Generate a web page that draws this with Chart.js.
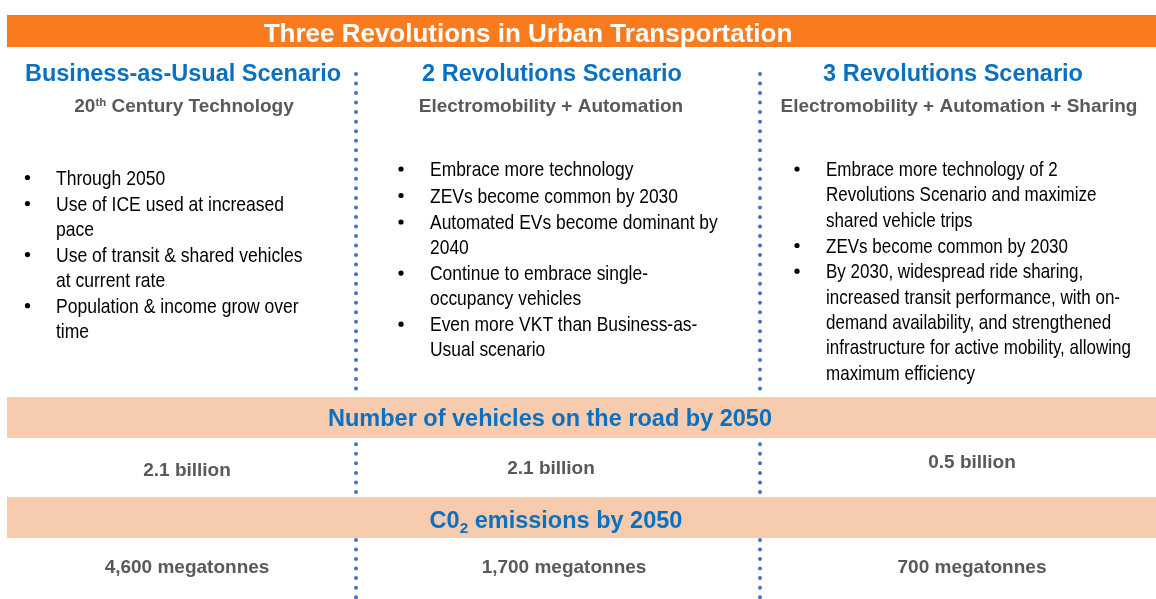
<!DOCTYPE html>
<html>
<head>
<meta charset="utf-8">
<script src="https://cdn.jsdelivr.net/npm/chart.js@4.4.1/dist/chart.umd.min.js"></script>
<style>
    html, body { margin: 0; padding: 0; background: #fff; }
    canvas { display: block; }
</style>
</head>
<body>
<canvas id="board" width="1156" height="599"></canvas>
<script>
// Textos y datos del gráfico
const TITLE = 'Three Revolutions in Urban Transportation';
const SCENARIOS = ['Business-as-Usual Scenario', '2 Revolutions Scenario', '3 Revolutions Scenario'];
const SUBTITLES = ['20th Century Technology', 'Electromobility + Automation', 'Electromobility + Automation + Sharing'];

const BAU_BULLETS = [
    ['Through 2050'],
    ['Use of ICE used at increased', 'pace'],
    ['Use of transit & shared vehicles', 'at current rate'],
    ['Population & income grow over', 'time']
];
const TWO_REV_BULLETS = [
    ['Embrace more technology'],
    ['ZEVs become common by 2030'],
    ['Automated EVs become dominant by', '2040'],
    ['Continue to embrace single-', 'occupancy vehicles'],
    ['Even more VKT than Business-as-', 'Usual scenario']
];
const THREE_REV_BULLETS = [
    ['Embrace more technology of 2', 'Revolutions Scenario and maximize', 'shared vehicle trips'],
    ['ZEVs become common by 2030'],
    ['By 2030, widespread ride sharing,', 'increased transit performance, with on-',
     'demand availability, and strengthened', 'infrastructure for active mobility, allowing',
     'maximum efficiency']
];

const VEHICLES_TITLE = 'Number of vehicles on the road by 2050';
const CO2_TITLE = 'C0_2 emissions by 2050';
const VEHICLES_BILLION = [2.1, 2.1, 0.5];
const CO2_MEGATONNES = [4600, 1700, 700];

// Layout (px del lienzo)
const ORANGE = '#FA7B1E';
const PEACH = '#F7CBAD';
const BLUE = '#0A70C0';
const GRAY = '#595959';
const DOTS = '#4472C4';
const FONT = '"Liberation Sans", Arial, Helvetica, sans-serif';

const COLUMNS = [
    { head: 183, sub: 184, bullet: 27.5, text: 56, squeeze: 0.835, firstLine: 184.5, lineH: 25.1, gap: 0.9, veh: 187, vehY: 476, co2: 187, list: BAU_BULLETS },
    { head: 552, sub: 551, bullet: 401, text: 430, squeeze: 0.83, firstLine: 176, lineH: 24.6, gap: 1.9, veh: 551, vehY: 473.5, co2: 564, list: TWO_REV_BULLETS },
    { head: 953, sub: 959, bullet: 797, text: 826, squeeze: 0.81, firstLine: 176, lineH: 25.4, gap: 0.3, veh: 972, vehY: 468, co2: 972, list: THREE_REV_BULLETS }
];
const SEPARATORS = [356, 760];
const DOT_SEGMENTS = [[74, 396], [444.3, 496], [540, 599]];

// Dibuja texto con sub/superíndices: "20th" -> superíndice, "_2" -> subíndice
function drawRich(ctx, text, cx, baseline, size, weight, color) {
    const parts = [];
    const sup = text.match(/^(\d+)(th)(.*)$/);
    const sub = text.match(/^(.*?)_(\d)(.*)$/);
    if (sup) {
        parts.push({ t: sup[1], s: size, dy: 0 }, { t: sup[2], s: size * 0.6, dy: -size * 0.33 }, { t: sup[3], s: size, dy: 0 });
    } else if (sub) {
        parts.push({ t: sub[1], s: size, dy: 0 }, { t: sub[2], s: size * 0.65, dy: size * 0.22 }, { t: sub[3], s: size, dy: 0 });
    } else {
        parts.push({ t: text, s: size, dy: 0 });
    }
    let total = 0;
    parts.forEach(p => {
        ctx.font = `${weight} ${p.s}px ${FONT}`;
        p.w = ctx.measureText(p.t).width;
        total += p.w;
    });
    let x = cx - total / 2;
    ctx.fillStyle = color;
    ctx.textAlign = 'left';
    ctx.textBaseline = 'alphabetic';
    parts.forEach(p => {
        ctx.font = `${weight} ${p.s}px ${FONT}`;
        ctx.fillText(p.t, x, baseline + p.dy);
        x += p.w;
    });
}

const boardPlugin = {
    id: 'board',
    afterDraw(chart) {
        const ctx = chart.ctx;
        const xs = chart.scales.x;
        const ys = chart.scales.y;
        const X = v => xs.getPixelForValue(v);
        const Y = v => ys.getPixelForValue(v);

        ctx.save();

        // Separadores punteados
        ctx.strokeStyle = DOTS;
        ctx.lineWidth = 4;
        ctx.lineCap = 'round';
        ctx.setLineDash([0, 9.53]);
        SEPARATORS.forEach(sx => {
            DOT_SEGMENTS.forEach(([a, b]) => {
                ctx.beginPath();
                ctx.moveTo(X(sx), Y(a));
                ctx.lineTo(X(sx), Y(b));
                ctx.stroke();
            });
        });
        ctx.setLineDash([]);

        // Barra del título
        ctx.fillStyle = ORANGE;
        ctx.fillRect(X(7), Y(15), X(1156) - X(7), Y(47) - Y(15));
        drawRich(ctx, TITLE, X(528), Y(41.5), 26, 'bold', '#ffffff');

        // Bandas
        ctx.fillStyle = PEACH;
        ctx.fillRect(X(7), Y(397), X(1156) - X(7), Y(438) - Y(397));
        ctx.fillRect(X(7), Y(497), X(1156) - X(7), Y(538) - Y(497));
        drawRich(ctx, VEHICLES_TITLE, X(550), Y(425.5), 23.5, 'bold', BLUE);
        drawRich(ctx, CO2_TITLE, X(556), Y(527.5), 23.5, 'bold', BLUE);

        COLUMNS.forEach((col, i) => {
            drawRich(ctx, SCENARIOS[i], X(col.head), Y(81), 23.5, 'bold', BLUE);
            drawRich(ctx, SUBTITLES[i], X(col.sub), Y(112.3), 19, 'bold', GRAY);

            // Viñetas (fuente estrecha)
            let y = col.firstLine;
            ctx.fillStyle = '#000000';
            ctx.font = `21px ${FONT}`;
            ctx.textAlign = 'left';
            ctx.textBaseline = 'alphabetic';
            col.list.forEach(item => {
                ctx.beginPath();
                ctx.arc(X(col.bullet), Y(y - 7), 2.6, 0, Math.PI * 2);
                ctx.fill();
                item.forEach(line => {
                    ctx.save();
                    ctx.translate(X(col.text), Y(y));
                    ctx.scale(col.squeeze, 1);
                    ctx.fillText(line, 0, 0);
                    ctx.restore();
                    y += col.lineH;
                });
                y += col.gap;
            });

            drawRich(ctx, VEHICLES_BILLION[i].toFixed(1) + ' billion', X(col.veh), Y(col.vehY), 19, 'bold', GRAY);
            drawRich(ctx, CO2_MEGATONNES[i].toLocaleString('en-US') + ' megatonnes', X(col.co2), Y(572.7), 19, 'bold', GRAY);
        });

        ctx.restore();
    }
};

new Chart(document.getElementById('board'), {
    type: 'scatter',
    data: { datasets: [] },
    options: {
        responsive: false,
        animation: false,
        devicePixelRatio: 1,
        layout: { padding: 0 },
        plugins: { legend: { display: false }, tooltip: { enabled: false } },
        scales: {
            x: { type: 'linear', min: 0, max: 1156, display: false },
            y: { type: 'linear', min: 0, max: 599, reverse: true, display: false }
        }
    },
    plugins: [boardPlugin]
});
</script>
</body>
</html>
